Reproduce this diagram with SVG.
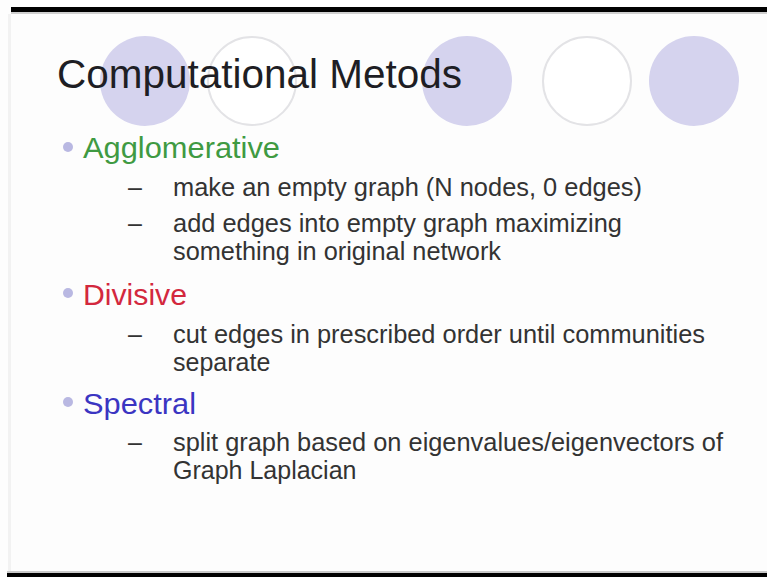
<svg xmlns="http://www.w3.org/2000/svg" width="767" height="577" viewBox="0 0 767 577">
  <style>
    .deco { fill: #d5d3ee; }
    .ring { fill: #ffffff; stroke: #e3e3e6; stroke-width: 2; }
    .title { font-family: "Liberation Sans", Arial, sans-serif; font-size: 40px; fill: #1e1e24; }
    .head { font-family: "Liberation Sans", Arial, sans-serif; font-size: 29px; }
    .body { font-family: "Liberation Sans", Arial, sans-serif; font-size: 25px; fill: #333333; }
    .dot { fill: #b9b8e2; }
  </style>
  <rect x="0" y="0" width="767" height="577" fill="#fdfdfd"/>
  <!-- frame bars -->
  <rect x="11" y="7" width="756" height="5" fill="#000000"/>
  <rect x="11" y="12" width="756" height="2" fill="#cfcfcf"/>
  <rect x="7" y="571" width="760" height="2" fill="#c8c8c8"/>
  <rect x="7" y="573" width="760" height="4" fill="#000000"/>
  <rect x="8" y="14" width="3" height="557" fill="#f2f2f2"/>

  <!-- decorative circles -->
  <g id="circles">
    <circle class="deco" cx="145" cy="81" r="45"/>
    <circle class="ring" cx="252" cy="81" r="44"/>
    <circle class="deco" cx="467" cy="81" r="45"/>
    <circle class="ring" cx="587" cy="81" r="44"/>
    <circle class="deco" cx="694" cy="81" r="45"/>
  </g>

  <g id="title">
    <text class="title" x="57" y="88" textLength="405" lengthAdjust="spacingAndGlyphs">Computational Metods</text>
  </g>

  <g id="agglomerative">
    <circle class="dot" cx="68" cy="147" r="5"/>
    <text class="head" x="83" y="158" fill="#3f9a42" textLength="197" lengthAdjust="spacingAndGlyphs">Agglomerative</text>
    <text class="body" x="128" y="196">–</text>
    <text class="body" x="173" y="196" textLength="469" lengthAdjust="spacingAndGlyphs">make an empty graph (N nodes, 0 edges)</text>
    <text class="body" x="128" y="232">–</text>
    <text class="body" x="173" y="232" textLength="449" lengthAdjust="spacingAndGlyphs">add edges into empty graph maximizing</text>
    <text class="body" x="173" y="260" textLength="328" lengthAdjust="spacingAndGlyphs">something in original network</text>
  </g>

  <g id="divisive">
    <circle class="dot" cx="68" cy="293" r="5"/>
    <text class="head" x="83" y="305" fill="#d3283e" textLength="104" lengthAdjust="spacingAndGlyphs">Divisive</text>
    <text class="body" x="128" y="343">–</text>
    <text class="body" x="173" y="343" textLength="532" lengthAdjust="spacingAndGlyphs">cut edges in prescribed order until communities</text>
    <text class="body" x="173" y="371">separate</text>
  </g>

  <g id="spectral">
    <circle class="dot" cx="68" cy="402" r="5"/>
    <text class="head" x="83" y="414" fill="#3b35c2" textLength="113" lengthAdjust="spacingAndGlyphs">Spectral</text>
    <text class="body" x="128" y="451">–</text>
    <text class="body" x="173" y="451" textLength="550" lengthAdjust="spacingAndGlyphs">split graph based on eigenvalues/eigenvectors of</text>
    <text class="body" x="173" y="479">Graph Laplacian</text>
  </g>
</svg>
